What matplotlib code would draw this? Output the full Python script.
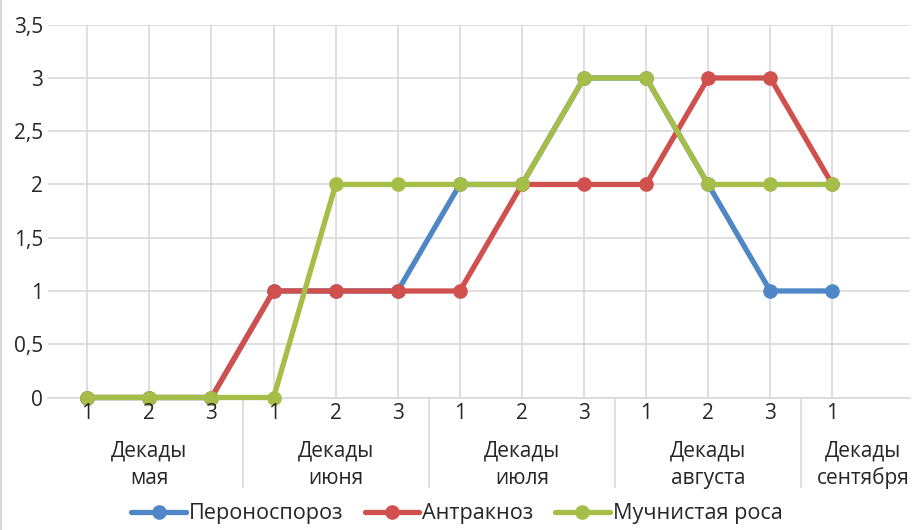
import matplotlib
matplotlib.use("Agg")
import matplotlib.pyplot as plt
import matplotlib.transforms as mtransforms
from matplotlib.lines import Line2D

plt.rcParams['font.family'] = ['Open Sans', 'DejaVu Sans']

# decades of each month, May through the first decade of September
decades = ["1", "2", "3", "1", "2", "3", "1", "2", "3", "1", "2", "3", "1"]
months = ["мая", "июня", "июля", "августа", "сентября"]
month_spans = [(0, 2), (3, 5), (6, 8), (9, 11), (12, 13)]

# disease development score per decade
peronosporoz = [0, 0, 0, 1, 1, 1, 2, 2, 3, 3, 2, 1, 1]
antraknoz = [0, 0, 0, 1, 1, 1, 1, 2, 2, 2, 3, 3, 2]
muchnistaya = [0, 0, 0, 0, 2, 2, 2, 2, 3, 3, 2, 2, 2]

series = [
    ("Пероноспороз", peronosporoz, "#4F86C6"),
    ("Антракноз", antraknoz, "#D0504D"),
    ("Мучнистая роса", muchnistaya, "#A5BE48"),
]

GRID = "#D9D9D9"
TEXT = "#262626"
FS = 15

fig = plt.figure(figsize=(9.19, 5.30), dpi=100)
ax = fig.add_axes([48 / 919, 132.5 / 530, 862 / 919, 372.8 / 530])

x = list(range(len(decades)))
for name, vals, color in series:
    ax.plot(x, vals, color=color, lw=3.8, marker="o", ms=9.5,
            label=name, clip_on=False, zorder=3, solid_capstyle="round")

ax.set_xlim(-0.633, 13.25)
ax.set_ylim(0, 3.5)

ax.set_yticks([0, 0.5, 1, 1.5, 2, 2.5, 3, 3.5])
ax.set_yticklabels(["0", "0,5", "1", "1,5", "2", "2,5", "3", "3,5"])
ax.tick_params(axis="y", length=0, pad=3.6, labelsize=FS, labelcolor=TEXT)
ax.set_xticks(x)
ax.set_xticklabels([])
ax.tick_params(axis="x", length=0)

ax.grid(True, color=GRID, lw=1.2, zorder=0)
ax.set_axisbelow(True)
for side in ["top", "right", "left"]:
    ax.spines[side].set_visible(False)
ax.spines["bottom"].set_color(GRID)
ax.spines["bottom"].set_linewidth(1.2)

# two-level category axis: decade numbers, month names and separators
trans = mtransforms.blended_transform_factory(ax.transData, ax.transAxes)
for xi, lab in zip(x, decades):
    ax.text(xi, -0.043, lab, transform=trans, ha="center", va="center",
            fontsize=FS, color=TEXT)
for (a, b), m in zip(month_spans, months):
    c = (a + b) / 2
    ax.text(c, -0.143, "Декады", transform=trans, ha="center", va="center",
            fontsize=FS, color=TEXT)
    ax.text(c, -0.216, m, transform=trans, ha="center", va="center",
            fontsize=FS, color=TEXT)
for a, b in month_spans[:-1]:
    ax.add_line(Line2D([b + 0.5, b + 0.5], [0, -0.240], transform=trans,
                       color=GRID, lw=1.2, clip_on=False))

# chart border on the left edge
fig.add_artist(Line2D([0.0015, 0.0015], [0, 1], transform=fig.transFigure,
                      color=GRID, lw=1.5))

fig.legend(loc="center", bbox_to_anchor=(457 / 919, 1 - 514 / 530), ncol=3,
           frameon=False, fontsize=15.6, handlelength=2.5, handletextpad=0.15,
           columnspacing=1.0, labelcolor=TEXT, borderpad=0)

fig.savefig("out.png", dpi=100)
